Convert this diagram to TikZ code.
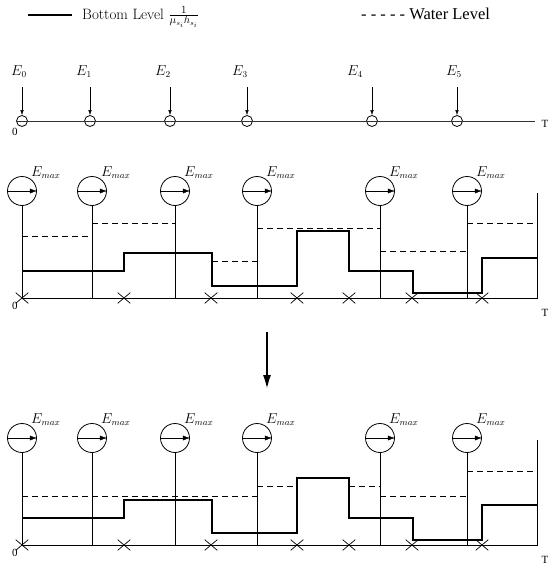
\documentclass[tikz,border=0pt]{standalone}
\usepackage{fontspec}
\newfontfamily\timesf{Liberation Serif}
\usetikzlibrary{arrows.meta,shapes.misc}

\begin{document}
\begin{tikzpicture}[x=1pt,y=-1pt,
  every node/.style={font=\fontsize{13.3}{16}\selectfont},
  thinline/.style={line width=0.9pt},
  bottomlevel/.style={line width=2.4pt, line join=miter},
  waterlevel/.style={line width=0.8pt, dash pattern=on 6pt off 4pt},
  gauge/.style={circle, draw, line width=0.8pt, minimum size=29pt, inner sep=0pt},
  epoint/.style={circle, draw, line width=0.8pt, minimum size=11pt, inner sep=0pt},
  xmark/.style={cross out, draw, line width=0.7pt, minimum width=12pt, minimum height=10pt, inner sep=0pt},
  axislabel/.style={font=\timesf\fontsize{11}{13}\selectfont},
  smallhead/.style={-{Latex[length=5pt,width=3.5pt]}},
  gaugehead/.style={-{Latex[length=7pt,width=5pt]}},
]
\useasboundingbox (0,0) rectangle (548,566);

% legend
\coordinate (lg1) at (28,15);
\coordinate (lg2) at (72,15);
\draw[bottomlevel] (lg1) -- (lg2);
\node[anchor=base west, inner sep=0pt, font=\fontsize{15}{18}\selectfont] (lgb) at (82,19) {Bottom Level $\frac{1}{\mu_{s_i}h_{s_i}}$};
\node[anchor=base west, inner sep=0pt, font=\timesf\fontsize{16.5}{19}\selectfont] (lgw) at (361,19) {- - - - - Water Level};

% arrival time line
\foreach \i/\x in {0/22,1/90,2/170,3/247,4/372,5/457} {
  \node[epoint] (c\i) at (\x,121) {};
  \coordinate (s\i) at (\x,87);
  \draw[smallhead] (s\i) -- (c\i.north);
}
\coordinate (tend) at (535,121);
\draw[thinline, black!80] (c0.west) -- (tend);
\foreach \i/\x in {0/19,1/84,2/163,3/240,4/355,5/454}
  \node[anchor=base, inner sep=0pt] (e\i) at (\x,75) {$E_{\i}$};
\node[axislabel] (t0) at (15,132) {0};
\node[axislabel] (tT) at (545,124) {T};

% transition arrow
\coordinate (ar1) at (267,332);
\coordinate (ar2) at (267,390);
\draw[line width=2.6pt, -{Latex[length=15pt,width=8pt]}] (ar1) -- (ar2);

% the two reservoir panels
\foreach \p/\b in {a/298,b/545} {
\begin{scope}[shift={(0,\b)}]
  \foreach \k/\x in {1/22,2/92,3/175,4/257,5/380,6/467} {
    \node[gauge] (\p g\k) at (\x,-107) {};
    \draw[gaugehead] (\p g\k.west) -- (\p g\k.east);
    \node[anchor=base west, inner sep=0pt] (\p l\k) at (\x+9,-122) {$E_{max}$};
    \coordinate (\p f\k) at (\x,0);
    \draw[thinline] (\p g\k.south) -- (\p f\k);
  }
  \foreach \k/\x in {1/22,2/124,3/211,4/297,5/349,6/412,7/482}
    \node[xmark] (\p x\k) at (\x,0) {};
  \coordinate (\p end) at (537,0);
  \coordinate (\p top) at (537,-105);
  \draw[thinline] (\p x1.center) -- (\p end) -- (\p top);
  \draw[bottomlevel] (22,-27) -- (124,-27) -- (124,-45) -- (212,-45) -- (212,-12)
    -- (297,-12) -- (297,-67) -- (349,-67) -- (349,-27) -- (413,-27) -- (413,-5)
    -- (482,-5) -- (482,-40) -- (537,-40);
  \node[axislabel] (\p zero) at (15,8) {0};
  \node[axislabel] (\p T) at (545,15) {T};
\end{scope}
}

% water levels, before
\begin{scope}[shift={(0,298)}]
  \draw[waterlevel] (22,-62) -- (88,-62);
  \draw[waterlevel] (92,-75) -- (175,-75);
  \draw[waterlevel] (212,-37) -- (257,-37);
  \draw[waterlevel] (257,-70) -- (380,-70);
  \draw[waterlevel] (380,-47) -- (466,-47);
  \draw[waterlevel] (467,-75) -- (535,-75);
\end{scope}

% water levels, after
\begin{scope}[shift={(0,545)}]
  \draw[waterlevel] (22,-49) -- (257,-49);
  \draw[waterlevel] (257,-59) -- (297,-59);
  \draw[waterlevel] (349,-59) -- (380,-59);
  \draw[waterlevel] (380,-49) -- (466,-49);
  \draw[waterlevel] (467,-74) -- (535,-74);
\end{scope}
\end{tikzpicture}
\end{document}
